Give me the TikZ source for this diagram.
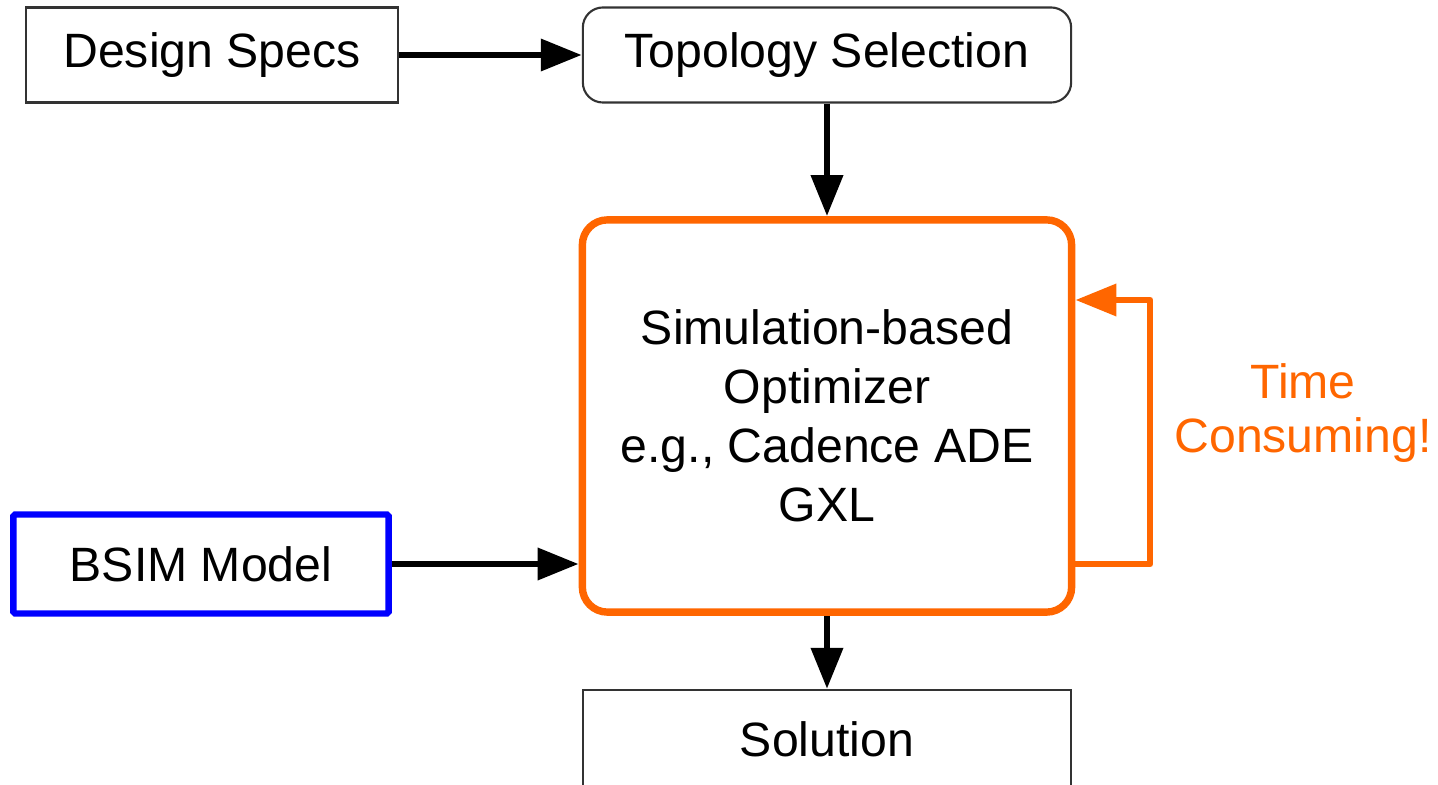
\documentclass[tikz,border=0pt]{standalone}
\usepackage{fontspec}
\setmainfont{Liberation Sans}
\usetikzlibrary{arrows.meta}
\definecolor{simorange}{RGB}{255,102,0}
\definecolor{modelblue}{RGB}{0,0,255}

\begin{document}
\begin{tikzpicture}[x=0.01cm, y=-0.01cm,
    every node/.style={font=\fontsize{13.7}{16.8}\selectfont},
    plain/.style={draw=black!80, line width=0.6pt, minimum height=0.95cm, inner sep=0pt},
    optbox/.style={draw=simorange, line width=2.1pt, rounded corners=0.25cm,
        minimum width=4.89cm, minimum height=3.92cm, align=center},
    flow/.style={line width=1.9pt, -{Triangle[length=4.1mm, width=3.1mm]}},
    ]
        \clip (0, 0) rectangle (1438, 785);

        \node[plain, minimum width=3.71cm] at (212, 55)(spec){Design Specs};
        \node[plain, rounded corners=0.2cm, minimum width=4.88cm] at (827, 55)(topo){Topology Selection};
        \node[optbox] at (827, 416)(opt){Simulation-based\\Optimizer\\e.g., Cadence ADE\\GXL};
        \node[draw=modelblue, line width=1.8pt, rounded corners=0.5pt, minimum width=3.75cm, minimum height=0.99cm] at (201, 564)(bsim){BSIM Model};
        \node[plain, minimum width=4.88cm, minimum height=0.98cm] at (827, 739)(sol){Solution};
        \node[text=simorange, align=center, font=\fontsize{13.7}{15.6}\selectfont] at (1303, 413)(slow){Time\\Consuming!};
        \coordinate (fbtop) at (1150, 300);

        \path[flow]
        (spec)edge(topo)
        (topo)edge(opt)
        (bsim.east)edge(bsim.east -| opt.west)
        (opt)edge(sol)
        ;
        \draw[flow, draw=simorange, line cap=round, line join=round]
        (opt.east |- bsim.east) -| (fbtop) -- (opt.east |- fbtop);
    \end{tikzpicture}
\end{document}
